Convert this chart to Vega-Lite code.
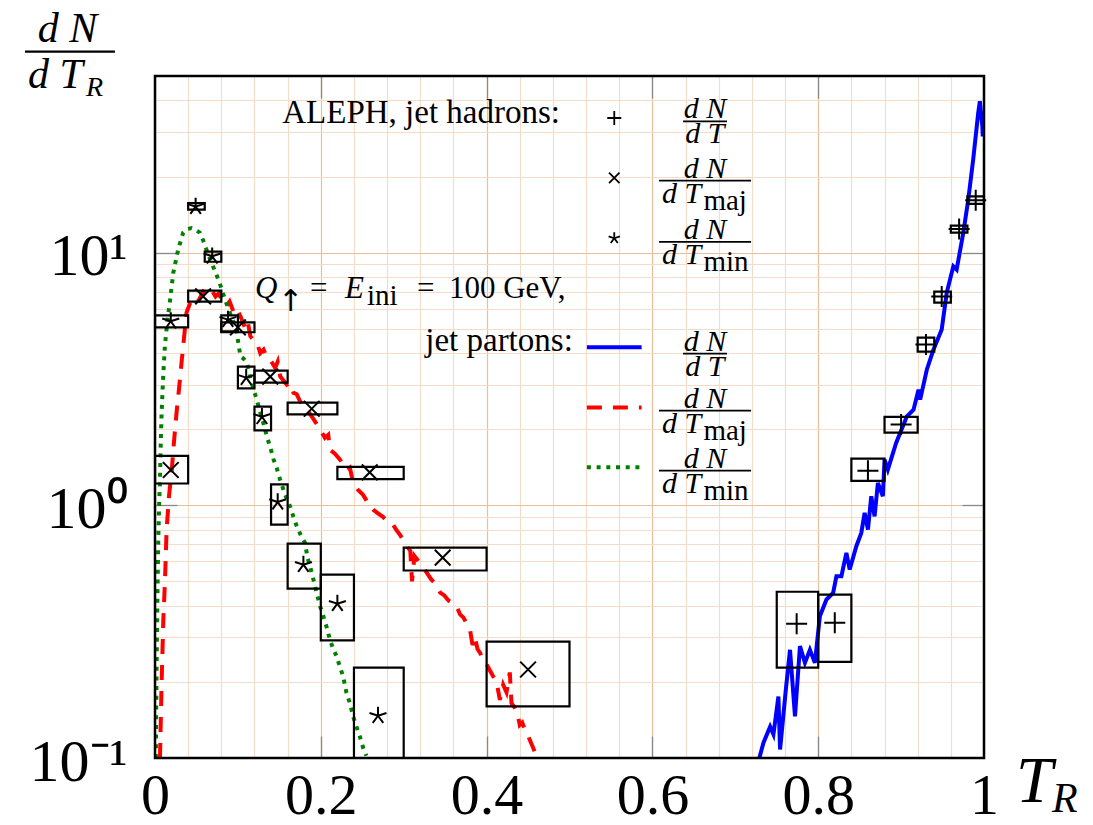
{
 "$schema": "https://vega.github.io/schema/vega-lite/v6.json",
 "width": 829, "height": 682,
 "autosize": {"type": "none"},
 "padding": {"left": 155, "top": 76, "right": 109, "bottom": 67},
 "background": "white",
 "config": {"view": {"stroke": null}, "font": "Liberation Serif", "text": {"font": "Liberation Serif", "baseline": "alphabetic", "color": "black"}},
 "data": {"values": [{}]},
 "datasets": {
  "partons": [
   {"c":"T","T":0.729,"dN":0.1},{"c":"T","T":0.734,"dN":0.115},{"c":"T","T":0.742,"dN":0.133},{"c":"T","T":0.746,"dN":0.124},{"c":"T","T":0.752,"dN":0.175},{"c":"T","T":0.754,"dN":0.108},{"c":"T","T":0.761,"dN":0.187},{"c":"T","T":0.766,"dN":0.268},{"c":"T","T":0.772,"dN":0.146},{"c":"T","T":0.778,"dN":0.277},{"c":"T","T":0.784,"dN":0.238},{"c":"T","T":0.790,"dN":0.268},{"c":"T","T":0.796,"dN":0.238},{"c":"T","T":0.802,"dN":0.364},{"c":"T","T":0.810,"dN":0.424},{"c":"T","T":0.818,"dN":0.450},{"c":"T","T":0.822,"dN":0.524},{"c":"T","T":0.828,"dN":0.524},{"c":"T","T":0.834,"dN":0.648},{"c":"T","T":0.838,"dN":0.557},{"c":"T","T":0.846,"dN":0.689},{"c":"T","T":0.852,"dN":0.778},{"c":"T","T":0.856,"dN":0.933},{"c":"T","T":0.860,"dN":0.801},{"c":"T","T":0.864,"dN":1.086},{"c":"T","T":0.868,"dN":0.904},{"c":"T","T":0.872,"dN":1.227},{"c":"T","T":0.878,"dN":1.086},{"c":"T","T":0.880,"dN":1.516},{"c":"T","T":0.884,"dN":1.384},{"c":"T","T":0.894,"dN":1.765},{"c":"T","T":0.907,"dN":2.25},{"c":"T","T":0.915,"dN":2.39},{"c":"T","T":0.921,"dN":2.87},{"c":"T","T":0.923,"dN":2.62},{"c":"T","T":0.931,"dN":3.44},{"c":"T","T":0.939,"dN":4.13},{"c":"T","T":0.949,"dN":4.96},{"c":"T","T":0.955,"dN":6.93},{"c":"T","T":0.963,"dN":8.83},{"c":"T","T":0.967,"dN":8.57},{"c":"T","T":0.975,"dN":11.97},{"c":"T","T":0.981,"dN":16.2},{"c":"T","T":0.987,"dN":23.4},{"c":"T","T":0.993,"dN":35.7},{"c":"T","T":0.995,"dN":39.7},{"c":"T","T":0.998,"dN":31.6},{"c":"T","T":0.9985,"dN":28.8},
   {"c":"maj","T":0.006,"dN":0.1},{"c":"maj","T":0.008,"dN":0.2},{"c":"maj","T":0.010,"dN":0.35},{"c":"maj","T":0.012,"dN":0.5},{"c":"maj","T":0.014,"dN":0.8},{"c":"maj","T":0.017,"dN":1.1},{"c":"maj","T":0.020,"dN":1.35},{"c":"maj","T":0.023,"dN":1.8},{"c":"maj","T":0.026,"dN":2.33},{"c":"maj","T":0.029,"dN":2.9},{"c":"maj","T":0.032,"dN":3.67},{"c":"maj","T":0.035,"dN":4.6},{"c":"maj","T":0.038,"dN":5.79},{"c":"maj","T":0.043,"dN":6.4},{"c":"maj","T":0.048,"dN":6.7},{"c":"maj","T":0.053,"dN":6.5},{"c":"maj","T":0.058,"dN":7.0},{"c":"maj","T":0.063,"dN":6.8},{"c":"maj","T":0.068,"dN":7.14},{"c":"maj","T":0.073,"dN":6.7},{"c":"maj","T":0.077,"dN":6.9},{"c":"maj","T":0.082,"dN":6.3},{"c":"maj","T":0.086,"dN":6.13},{"c":"maj","T":0.090,"dN":6.4},{"c":"maj","T":0.095,"dN":5.8},{"c":"maj","T":0.099,"dN":6.0},{"c":"maj","T":0.103,"dN":5.6},{"c":"maj","T":0.106,"dN":5.3},{"c":"maj","T":0.109,"dN":5.0},{"c":"maj","T":0.112,"dN":5.3},{"c":"maj","T":0.115,"dN":4.67},{"c":"maj","T":0.119,"dN":4.5},{"c":"maj","T":0.123,"dN":4.4},{"c":"maj","T":0.127,"dN":4.0},{"c":"maj","T":0.131,"dN":4.13},{"c":"maj","T":0.135,"dN":3.85},{"c":"maj","T":0.139,"dN":3.77},{"c":"maj","T":0.145,"dN":3.5},{"c":"maj","T":0.148,"dN":3.7},{"c":"maj","T":0.151,"dN":3.24},{"c":"maj","T":0.159,"dN":3.0},{"c":"maj","T":0.163,"dN":3.05},{"c":"maj","T":0.167,"dN":2.79},{"c":"maj","T":0.171,"dN":2.75},{"c":"maj","T":0.175,"dN":2.58},{"c":"maj","T":0.179,"dN":2.5},{"c":"maj","T":0.183,"dN":2.39},{"c":"maj","T":0.187,"dN":2.3},{"c":"maj","T":0.191,"dN":2.2},{"c":"maj","T":0.195,"dN":2.1},{"c":"maj","T":0.199,"dN":2.0},{"c":"maj","T":0.205,"dN":1.85},{"c":"maj","T":0.209,"dN":1.9},{"c":"maj","T":0.211,"dN":1.66},{"c":"maj","T":0.217,"dN":1.6},{"c":"maj","T":0.223,"dN":1.52},{"c":"maj","T":0.227,"dN":1.45},{"c":"maj","T":0.231,"dN":1.38},{"c":"maj","T":0.235,"dN":1.41},{"c":"maj","T":0.239,"dN":1.23},{"c":"maj","T":0.245,"dN":1.15},{"c":"maj","T":0.251,"dN":1.1},{"c":"maj","T":0.257,"dN":1.02},{"c":"maj","T":0.263,"dN":0.962},{"c":"maj","T":0.269,"dN":0.93},{"c":"maj","T":0.275,"dN":0.9},{"c":"maj","T":0.281,"dN":0.86},{"c":"maj","T":0.287,"dN":0.84},{"c":"maj","T":0.291,"dN":0.80},{"c":"maj","T":0.296,"dN":0.76},{"c":"maj","T":0.300,"dN":0.72},{"c":"maj","T":0.304,"dN":0.687},{"c":"maj","T":0.308,"dN":0.66},{"c":"maj","T":0.310,"dN":0.50},{"c":"maj","T":0.313,"dN":0.63},{"c":"maj","T":0.318,"dN":0.60},{"c":"maj","T":0.323,"dN":0.572},{"c":"maj","T":0.328,"dN":0.54},{"c":"maj","T":0.333,"dN":0.51},{"c":"maj","T":0.338,"dN":0.49},{"c":"maj","T":0.344,"dN":0.451},{"c":"maj","T":0.349,"dN":0.44},{"c":"maj","T":0.354,"dN":0.42},{"c":"maj","T":0.359,"dN":0.41},{"c":"maj","T":0.364,"dN":0.397},{"c":"maj","T":0.368,"dN":0.37},{"c":"maj","T":0.372,"dN":0.36},{"c":"maj","T":0.376,"dN":0.34},{"c":"maj","T":0.380,"dN":0.322},{"c":"maj","T":0.383,"dN":0.28},{"c":"maj","T":0.386,"dN":0.30},{"c":"maj","T":0.389,"dN":0.27},{"c":"maj","T":0.392,"dN":0.261},{"c":"maj","T":0.396,"dN":0.245},{"c":"maj","T":0.400,"dN":0.235},{"c":"maj","T":0.404,"dN":0.222},{"c":"maj","T":0.408,"dN":0.21},{"c":"maj","T":0.412,"dN":0.2},{"c":"maj","T":0.416,"dN":0.17},{"c":"maj","T":0.420,"dN":0.195},{"c":"maj","T":0.424,"dN":0.182},{"c":"maj","T":0.428,"dN":0.218},{"c":"maj","T":0.430,"dN":0.165},{"c":"maj","T":0.434,"dN":0.158},{"c":"maj","T":0.437,"dN":0.151},{"c":"maj","T":0.440,"dN":0.135},{"c":"maj","T":0.443,"dN":0.138},{"c":"maj","T":0.446,"dN":0.13},{"c":"maj","T":0.449,"dN":0.126},{"c":"maj","T":0.452,"dN":0.118},{"c":"maj","T":0.455,"dN":0.112},{"c":"maj","T":0.458,"dN":0.106},{"c":"maj","T":0.461,"dN":0.101},
   {"c":"min","T":0.001,"dN":0.1},{"c":"min","T":0.002,"dN":0.25},{"c":"min","T":0.003,"dN":0.45},{"c":"min","T":0.004,"dN":0.75},{"c":"min","T":0.005,"dN":1.0},{"c":"min","T":0.006,"dN":1.26},{"c":"min","T":0.007,"dN":1.8},{"c":"min","T":0.008,"dN":2.33},{"c":"min","T":0.010,"dN":3.3},{"c":"min","T":0.012,"dN":4.3},{"c":"min","T":0.015,"dN":5.4},{"c":"min","T":0.018,"dN":6.4},{"c":"min","T":0.022,"dN":8.3},{"c":"min","T":0.028,"dN":10.3},{"c":"min","T":0.034,"dN":12.0},{"c":"min","T":0.039,"dN":12.4},{"c":"min","T":0.044,"dN":12.5},{"c":"min","T":0.049,"dN":12.3},{"c":"min","T":0.054,"dN":12.0},{"c":"min","T":0.058,"dN":11.2},{"c":"min","T":0.062,"dN":10.3},{"c":"min","T":0.066,"dN":9.5},{"c":"min","T":0.070,"dN":8.83},{"c":"min","T":0.074,"dN":8.2},{"c":"min","T":0.078,"dN":7.59},{"c":"min","T":0.082,"dN":6.9},{"c":"min","T":0.086,"dN":6.32},{"c":"min","T":0.090,"dN":5.8},{"c":"min","T":0.094,"dN":5.4},{"c":"min","T":0.098,"dN":4.96},{"c":"min","T":0.101,"dN":4.3},{"c":"min","T":0.103,"dN":3.89},{"c":"min","T":0.107,"dN":3.8},{"c":"min","T":0.111,"dN":3.67},{"c":"min","T":0.115,"dN":3.2},{"c":"min","T":0.119,"dN":2.87},{"c":"min","T":0.123,"dN":2.6},{"c":"min","T":0.127,"dN":2.33},{"c":"min","T":0.131,"dN":2.1},{"c":"min","T":0.135,"dN":1.87},{"c":"min","T":0.139,"dN":1.7},{"c":"min","T":0.143,"dN":1.52},{"c":"min","T":0.147,"dN":1.4},{"c":"min","T":0.151,"dN":1.26},{"c":"min","T":0.157,"dN":1.1},{"c":"min","T":0.163,"dN":0.99},{"c":"min","T":0.167,"dN":0.9},{"c":"min","T":0.171,"dN":0.826},{"c":"min","T":0.176,"dN":0.76},{"c":"min","T":0.181,"dN":0.71},{"c":"min","T":0.184,"dN":0.62},{"c":"min","T":0.187,"dN":0.574},{"c":"min","T":0.191,"dN":0.51},{"c":"min","T":0.195,"dN":0.45},{"c":"min","T":0.199,"dN":0.40},{"c":"min","T":0.203,"dN":0.364},{"c":"min","T":0.207,"dN":0.33},{"c":"min","T":0.211,"dN":0.294},{"c":"min","T":0.215,"dN":0.27},{"c":"min","T":0.219,"dN":0.253},{"c":"min","T":0.223,"dN":0.23},{"c":"min","T":0.227,"dN":0.210},{"c":"min","T":0.231,"dN":0.181},{"c":"min","T":0.235,"dN":0.165},{"c":"min","T":0.239,"dN":0.146},{"c":"min","T":0.243,"dN":0.133},{"c":"min","T":0.247,"dN":0.122},{"c":"min","T":0.251,"dN":0.11},{"c":"min","T":0.255,"dN":0.102}
  ],
  "aleph": [
   {"kind":"T","T":0.774,"dN":0.340,"T1":0.75,"T2":0.80,"lo":0.228,"hi":0.455},
   {"kind":"T","T":0.820,"dN":0.343,"T1":0.80,"T2":0.84,"lo":0.240,"hi":0.443},
   {"kind":"T","T":0.860,"dN":1.37,"T1":0.84,"T2":0.88,"lo":1.25,"hi":1.53},
   {"kind":"T","T":0.900,"dN":2.09,"T1":0.88,"T2":0.92,"lo":1.94,"hi":2.24},
   {"kind":"T","T":0.930,"dN":4.33,"T1":0.92,"T2":0.94,"lo":4.06,"hi":4.61},
   {"kind":"T","T":0.949,"dN":6.70,"T1":0.94,"T2":0.96,"lo":6.34,"hi":7.01},
   {"kind":"T","T":0.970,"dN":12.4,"T1":0.96,"T2":0.98,"lo":12.0,"hi":12.8},
   {"kind":"T","T":0.990,"dN":16.1,"T1":0.98,"T2":1.00,"lo":15.6,"hi":16.7},
   {"kind":"maj","T":0.019,"dN":1.38,"T1":0.0,"T2":0.04,"lo":1.22,"hi":1.57},
   {"kind":"maj","T":0.058,"dN":6.71,"T1":0.04,"T2":0.08,"lo":6.40,"hi":7.07},
   {"kind":"maj","T":0.100,"dN":5.06,"T1":0.08,"T2":0.12,"lo":4.84,"hi":5.30},
   {"kind":"maj","T":0.139,"dN":3.23,"T1":0.12,"T2":0.16,"lo":3.06,"hi":3.41},
   {"kind":"maj","T":0.189,"dN":2.41,"T1":0.16,"T2":0.22,"lo":2.29,"hi":2.55},
   {"kind":"maj","T":0.259,"dN":1.35,"T1":0.22,"T2":0.30,"lo":1.27,"hi":1.42},
   {"kind":"maj","T":0.347,"dN":0.621,"T1":0.30,"T2":0.40,"lo":0.552,"hi":0.680},
   {"kind":"maj","T":0.450,"dN":0.224,"T1":0.40,"T2":0.50,"lo":0.160,"hi":0.289},
   {"kind":"min","T":0.019,"dN":5.35,"T1":0.0,"T2":0.04,"lo":5.06,"hi":5.65},
   {"kind":"min","T":0.049,"dN":15.2,"T1":0.04,"T2":0.06,"lo":14.8,"hi":15.7},
   {"kind":"min","T":0.069,"dN":9.67,"T1":0.06,"T2":0.08,"lo":9.2,"hi":10.1},
   {"kind":"min","T":0.088,"dN":5.43,"T1":0.08,"T2":0.10,"lo":4.88,"hi":5.65},
   {"kind":"min","T":0.110,"dN":3.20,"T1":0.10,"T2":0.12,"lo":2.90,"hi":3.54},
   {"kind":"min","T":0.129,"dN":2.24,"T1":0.12,"T2":0.14,"lo":1.98,"hi":2.46},
   {"kind":"min","T":0.148,"dN":1.03,"T1":0.14,"T2":0.16,"lo":0.839,"hi":1.21},
   {"kind":"min","T":0.179,"dN":0.582,"T1":0.16,"T2":0.20,"lo":0.468,"hi":0.705},
   {"kind":"min","T":0.220,"dN":0.408,"T1":0.20,"T2":0.24,"lo":0.292,"hi":0.532},
   {"kind":"min","T":0.269,"dN":0.147,"T1":0.24,"T2":0.30,"lo":0.08,"hi":0.228}
  ]
 },
 "resolve": {"axis": {"x": "independent", "y": "independent"}},
 "layer": [
  {"data": {"name": "partons"}, "transform": [{"filter": "datum.c == 'T'"}],
   "mark": {"type": "line", "color": "#0000ff", "strokeWidth": 4, "clip": true},
   "encoding": {
    "x": {"field": "T", "type": "quantitative", "scale": {"domain": [0, 1], "nice": false, "zero": false},
     "axis": {"orient": "bottom", "values": [0,0.04,0.08,0.12,0.16,0.2,0.24,0.28,0.32,0.36,0.4,0.44,0.48,0.52,0.56,0.6,0.64,0.68,0.72,0.76,0.8,0.84,0.88,0.92,0.96,1],
      "grid": true, "gridColor": {"condition": {"test": "abs(datum.value*5-round(datum.value*5))<0.001", "value": "#e9bf9b"}, "value": "#f5dcc8"}, "gridWidth": 1.2,
      "ticks": false, "tickSize": 0, "domain": false, "title": null,
      "labelExpr": "abs(datum.value*5-round(datum.value*5))<0.001 ? format(datum.value,'~g') : ''",
      "labelFont": "Liberation Serif", "labelFontSize": 58, "labelColor": "black", "labelPadding": 9, "labelBaseline": "top", "labelFlush": false, "labelOverlap": false}},
    "y": {"field": "dN", "type": "quantitative", "scale": {"type": "log", "domain": [0.1, 50], "nice": false},
     "axis": {"orient": "left", "values": [0.1,0.2,0.3,0.4,0.5,0.6,0.7,0.8,0.9,1,2,3,4,5,6,7,8,9,10,20,30,40],
      "grid": true, "gridColor": {"condition": {"test": "abs(log(datum.value)/LN10-round(log(datum.value)/LN10))<0.001", "value": "#e9bf9b"}, "value": "#f5dcc8"}, "gridWidth": 1.2,
      "ticks": false, "tickSize": 0, "domain": false, "title": null,
      "labelExpr": "datum.value == 10 ? '10¹' : datum.value == 1 ? '10⁰' : datum.value == 0.1 ? '10⁻¹' : ''",
      "labelFont": "Liberation Serif", "labelFontSize": 60, "labelColor": "black", "labelPadding": 28, "labelBaseline": "middle", "labelOffset": 4, "labelFlush": false, "labelOverlap": false}}
   }},
  {"data": {"name": "partons"}, "transform": [{"filter": "datum.c == 'maj'"}],
   "mark": {"type": "line", "color": "#ff0000", "strokeWidth": 4, "strokeDash": [15, 11], "clip": true},
   "encoding": {"x": {"field": "T", "type": "quantitative", "axis": null}, "y": {"field": "dN", "type": "quantitative", "axis": null}}},
  {"data": {"name": "partons"}, "transform": [{"filter": "datum.c == 'min'"}],
   "mark": {"type": "line", "color": "#008000", "strokeWidth": 4, "strokeDash": [4, 5.7], "clip": true},
   "encoding": {"x": {"field": "T", "type": "quantitative", "axis": null}, "y": {"field": "dN", "type": "quantitative", "axis": null}}},
  {"data": {"name": "aleph"},
   "mark": {"type": "rect", "filled": false, "color": "black", "strokeWidth": 2.2, "clip": true},
   "encoding": {
    "x": {"field": "T1", "type": "quantitative", "axis": {"orient": "top", "values": [0.2,0.4,0.6,0.8], "grid": false, "labels": false, "domain": false, "ticks": true, "tickSize": -22, "tickColor": "#888888", "tickWidth": 1.3, "title": null}},
    "x2": {"field": "T2"},
    "y": {"field": "lo", "type": "quantitative", "axis": {"orient": "right", "values": [1, 10], "grid": false, "labels": false, "domain": false, "ticks": true, "tickSize": -22, "tickColor": "#888888", "tickWidth": 1.3, "title": null}},
    "y2": {"field": "hi"}
   }},
  {"data": {"name": "aleph"},
   "mark": {"type": "point", "filled": false, "color": "black", "strokeWidth": 2, "size": 441, "opacity": 1},
   "encoding": {
    "x": {"field": "T", "type": "quantitative", "axis": {"orient": "bottom", "values": [0.2,0.4,0.6,0.8], "grid": false, "labels": false, "domain": false, "ticks": true, "tickSize": -22, "tickColor": "#888888", "tickWidth": 1.3, "title": null}},
    "y": {"field": "dN", "type": "quantitative", "axis": {"orient": "left", "values": [1, 10], "grid": false, "labels": false, "domain": false, "ticks": true, "tickSize": -22, "tickColor": "#888888", "tickWidth": 1.3, "title": null}},
    "shape": {"field": "kind", "type": "nominal", "legend": null, "scale": {"domain": ["T", "maj", "min"], "range": ["M-1,0L1,0M0,-1L0,1", "M-0.75,-0.75L0.75,0.75M-0.75,0.75L0.75,-0.75", "M0,-0.85L0,0L-0.808,-0.263M0,0L-0.5,0.688M0,0L0.5,0.688M0,0L0.808,-0.263"]}}
   }},
  {"mark": {"type": "rect", "filled": false, "color": "black", "strokeWidth": 2.5},
   "encoding": {"x": {"datum": 0, "type": "quantitative", "axis": null}, "x2": {"datum": 1}, "y": {"datum": 0.1, "type": "quantitative", "axis": null}, "y2": {"datum": 50}}},

  {"mark": {"type": "text", "text": "d N", "fontStyle": "italic", "fontSize": 42, "align": "center"},
   "encoding": {"x": {"datum": -0.1055, "type": "quantitative", "axis": null}, "y": {"datum": 68.4, "type": "quantitative", "axis": null}}},
  {"mark": {"type": "rule", "color": "black", "strokeWidth": 2.2},
   "encoding": {"x": {"datum": -0.1568, "type": "quantitative", "axis": null}, "x2": {"datum": -0.0483}, "y": {"datum": 62.4, "type": "quantitative", "axis": null}}},
  {"mark": {"type": "text", "text": "d T", "fontStyle": "italic", "fontSize": 42, "align": "left"},
   "encoding": {"x": {"datum": -0.1532, "type": "quantitative", "axis": null}, "y": {"datum": 44.86, "type": "quantitative", "axis": null}}},
  {"mark": {"type": "text", "text": "R", "fontStyle": "italic", "fontSize": 28, "align": "left"},
   "encoding": {"x": {"datum": -0.0832, "type": "quantitative", "axis": null}, "y": {"datum": 41.55, "type": "quantitative", "axis": null}}},

  {"mark": {"type": "text", "text": "T", "fontStyle": "italic", "fontSize": 66, "align": "left"},
   "encoding": {"x": {"datum": 1.0386, "type": "quantitative", "axis": null}, "y": {"datum": 0.0672, "type": "quantitative", "axis": null}}},
  {"mark": {"type": "text", "text": "R", "fontStyle": "italic", "fontSize": 42, "align": "left"},
   "encoding": {"x": {"datum": 1.082, "type": "quantitative", "axis": null}, "y": {"datum": 0.0614, "type": "quantitative", "axis": null}}},

  {"mark": {"type": "text", "text": "ALEPH, jet hadrons:", "fontSize": 33, "align": "right"},
   "encoding": {"x": {"datum": 0.4885, "type": "quantitative", "axis": null}, "y": {"datum": 32.6, "type": "quantitative", "axis": null}}},
  {"mark": {"type": "point", "filled": false, "color": "black", "strokeWidth": 1.8, "size": 196, "opacity": 1, "shape": "M-1,0L1,0M0,-1L0,1"},
   "encoding": {"x": {"datum": 0.554, "type": "quantitative", "axis": null}, "y": {"datum": 34.1, "type": "quantitative", "axis": null}}},
  {"mark": {"type": "point", "filled": false, "color": "black", "strokeWidth": 1.8, "size": 196, "opacity": 1, "shape": "M-0.75,-0.75L0.75,0.75M-0.75,0.75L0.75,-0.75"},
   "encoding": {"x": {"datum": 0.554, "type": "quantitative", "axis": null}, "y": {"datum": 19.75, "type": "quantitative", "axis": null}}},
  {"mark": {"type": "point", "filled": false, "color": "black", "strokeWidth": 1.8, "size": 196, "opacity": 1, "shape": "M0,-0.85L0,0L-0.808,-0.263M0,0L-0.5,0.688M0,0L0.5,0.688M0,0L0.808,-0.263"},
   "encoding": {"x": {"datum": 0.554, "type": "quantitative", "axis": null}, "y": {"datum": 11.4, "type": "quantitative", "axis": null}}},

  {"mark": {"type": "text", "text": "Q", "fontStyle": "italic", "fontSize": 31, "align": "left"},
   "encoding": {"x": {"datum": 0.1206, "type": "quantitative", "axis": null}, "y": {"datum": 6.62, "type": "quantitative", "axis": null}}},
  {"mark": {"type": "text", "text": "↑", "font": "DejaVu Sans", "fontSize": 30, "align": "left"},
   "encoding": {"x": {"datum": 0.1485, "type": "quantitative", "axis": null}, "y": {"datum": 5.85, "type": "quantitative", "axis": null}}},
  {"mark": {"type": "text", "text": "=", "fontSize": 31, "align": "left"},
   "encoding": {"x": {"datum": 0.187, "type": "quantitative", "axis": null}, "y": {"datum": 6.62, "type": "quantitative", "axis": null}}},
  {"mark": {"type": "text", "text": "E", "fontStyle": "italic", "fontSize": 31, "align": "left"},
   "encoding": {"x": {"datum": 0.2292, "type": "quantitative", "axis": null}, "y": {"datum": 6.62, "type": "quantitative", "axis": null}}},
  {"mark": {"type": "text", "text": "ini", "fontSize": 29, "align": "left"},
   "encoding": {"x": {"datum": 0.2557, "type": "quantitative", "axis": null}, "y": {"datum": 6.23, "type": "quantitative", "axis": null}}},
  {"mark": {"type": "text", "text": "=", "fontSize": 31, "align": "left"},
   "encoding": {"x": {"datum": 0.316, "type": "quantitative", "axis": null}, "y": {"datum": 6.62, "type": "quantitative", "axis": null}}},
  {"mark": {"type": "text", "text": "100 GeV,", "fontSize": 31, "align": "left"},
   "encoding": {"x": {"datum": 0.3546, "type": "quantitative", "axis": null}, "y": {"datum": 6.62, "type": "quantitative", "axis": null}}},
  {"mark": {"type": "text", "text": "jet partons:", "fontSize": 33, "align": "right"},
   "encoding": {"x": {"datum": 0.504, "type": "quantitative", "axis": null}, "y": {"datum": 4.07, "type": "quantitative", "axis": null}}},

  {"mark": {"type": "rule", "color": "#0000ff", "strokeWidth": 4},
   "encoding": {"x": {"datum": 0.521, "type": "quantitative", "axis": null}, "x2": {"datum": 0.587}, "y": {"datum": 4.22, "type": "quantitative", "axis": null}}},
  {"mark": {"type": "rule", "color": "#ff0000", "strokeWidth": 4, "strokeDash": [15, 11]},
   "encoding": {"x": {"datum": 0.521, "type": "quantitative", "axis": null}, "x2": {"datum": 0.587}, "y": {"datum": 2.436, "type": "quantitative", "axis": null}}},
  {"mark": {"type": "rule", "color": "#008000", "strokeWidth": 4, "strokeDash": [4, 5.7]},
   "encoding": {"x": {"datum": 0.521, "type": "quantitative", "axis": null}, "x2": {"datum": 0.587}, "y": {"datum": 1.414, "type": "quantitative", "axis": null}}},

  {"mark": {"type": "text", "text": "d N", "fontStyle": "italic", "fontSize": 30, "align": "center"},
   "encoding": {"x": {"datum": 0.6634, "type": "quantitative", "axis": null}, "y": {"datum": 34.0, "type": "quantitative", "axis": null}}},
  {"mark": {"type": "rule", "color": "black", "strokeWidth": 1.8},
   "encoding": {"x": {"datum": 0.637, "type": "quantitative", "axis": null}, "x2": {"datum": 0.690}, "y": {"datum": 33.08, "type": "quantitative", "axis": null}}},
  {"mark": {"type": "text", "text": "d T", "fontStyle": "italic", "fontSize": 30, "align": "center"},
   "encoding": {"x": {"datum": 0.6634, "type": "quantitative", "axis": null}, "y": {"datum": 27.07, "type": "quantitative", "axis": null}}},

  {"mark": {"type": "text", "text": "d N", "fontStyle": "italic", "fontSize": 30, "align": "center"},
   "encoding": {"x": {"datum": 0.6634, "type": "quantitative", "axis": null}, "y": {"datum": 19.81, "type": "quantitative", "axis": null}}},
  {"mark": {"type": "rule", "color": "black", "strokeWidth": 1.8},
   "encoding": {"x": {"datum": 0.608, "type": "quantitative", "axis": null}, "x2": {"datum": 0.719}, "y": {"datum": 19.27, "type": "quantitative", "axis": null}}},
  {"mark": {"type": "text", "text": "d T", "fontStyle": "italic", "fontSize": 30, "align": "right"},
   "encoding": {"x": {"datum": 0.659, "type": "quantitative", "axis": null}, "y": {"datum": 15.77, "type": "quantitative", "axis": null}}},
  {"mark": {"type": "text", "text": "maj", "fontSize": 29, "align": "left"},
   "encoding": {"x": {"datum": 0.6615, "type": "quantitative", "axis": null}, "y": {"datum": 14.80, "type": "quantitative", "axis": null}}},

  {"mark": {"type": "text", "text": "d N", "fontStyle": "italic", "fontSize": 30, "align": "center"},
   "encoding": {"x": {"datum": 0.6634, "type": "quantitative", "axis": null}, "y": {"datum": 11.33, "type": "quantitative", "axis": null}}},
  {"mark": {"type": "rule", "color": "black", "strokeWidth": 1.8},
   "encoding": {"x": {"datum": 0.608, "type": "quantitative", "axis": null}, "x2": {"datum": 0.719}, "y": {"datum": 11.02, "type": "quantitative", "axis": null}}},
  {"mark": {"type": "text", "text": "d T", "fontStyle": "italic", "fontSize": 30, "align": "right"},
   "encoding": {"x": {"datum": 0.659, "type": "quantitative", "axis": null}, "y": {"datum": 9.02, "type": "quantitative", "axis": null}}},
  {"mark": {"type": "text", "text": "min", "fontSize": 29, "align": "left"},
   "encoding": {"x": {"datum": 0.6615, "type": "quantitative", "axis": null}, "y": {"datum": 8.465, "type": "quantitative", "axis": null}}},

  {"mark": {"type": "text", "text": "d N", "fontStyle": "italic", "fontSize": 30, "align": "center"},
   "encoding": {"x": {"datum": 0.6634, "type": "quantitative", "axis": null}, "y": {"datum": 4.094, "type": "quantitative", "axis": null}}},
  {"mark": {"type": "rule", "color": "black", "strokeWidth": 1.8},
   "encoding": {"x": {"datum": 0.637, "type": "quantitative", "axis": null}, "x2": {"datum": 0.690}, "y": {"datum": 3.984, "type": "quantitative", "axis": null}}},
  {"mark": {"type": "text", "text": "d T", "fontStyle": "italic", "fontSize": 30, "align": "center"},
   "encoding": {"x": {"datum": 0.6634, "type": "quantitative", "axis": null}, "y": {"datum": 3.26, "type": "quantitative", "axis": null}}},

  {"mark": {"type": "text", "text": "d N", "fontStyle": "italic", "fontSize": 30, "align": "center"},
   "encoding": {"x": {"datum": 0.6634, "type": "quantitative", "axis": null}, "y": {"datum": 2.436, "type": "quantitative", "axis": null}}},
  {"mark": {"type": "rule", "color": "black", "strokeWidth": 1.8},
   "encoding": {"x": {"datum": 0.608, "type": "quantitative", "axis": null}, "x2": {"datum": 0.719}, "y": {"datum": 2.371, "type": "quantitative", "axis": null}}},
  {"mark": {"type": "text", "text": "d T", "fontStyle": "italic", "fontSize": 30, "align": "right"},
   "encoding": {"x": {"datum": 0.659, "type": "quantitative", "axis": null}, "y": {"datum": 1.940, "type": "quantitative", "axis": null}}},
  {"mark": {"type": "text", "text": "maj", "fontSize": 29, "align": "left"},
   "encoding": {"x": {"datum": 0.6615, "type": "quantitative", "axis": null}, "y": {"datum": 1.820, "type": "quantitative", "axis": null}}},

  {"mark": {"type": "text", "text": "d N", "fontStyle": "italic", "fontSize": 30, "align": "center"},
   "encoding": {"x": {"datum": 0.6634, "type": "quantitative", "axis": null}, "y": {"datum": 1.410, "type": "quantitative", "axis": null}}},
  {"mark": {"type": "rule", "color": "black", "strokeWidth": 1.8},
   "encoding": {"x": {"datum": 0.608, "type": "quantitative", "axis": null}, "x2": {"datum": 0.719}, "y": {"datum": 1.372, "type": "quantitative", "axis": null}}},
  {"mark": {"type": "text", "text": "d T", "fontStyle": "italic", "fontSize": 30, "align": "right"},
   "encoding": {"x": {"datum": 0.659, "type": "quantitative", "axis": null}, "y": {"datum": 1.123, "type": "quantitative", "axis": null}}},
  {"mark": {"type": "text", "text": "min", "fontSize": 29, "align": "left"},
   "encoding": {"x": {"datum": 0.6615, "type": "quantitative", "axis": null}, "y": {"datum": 1.053, "type": "quantitative", "axis": null}}}
 ]
}
